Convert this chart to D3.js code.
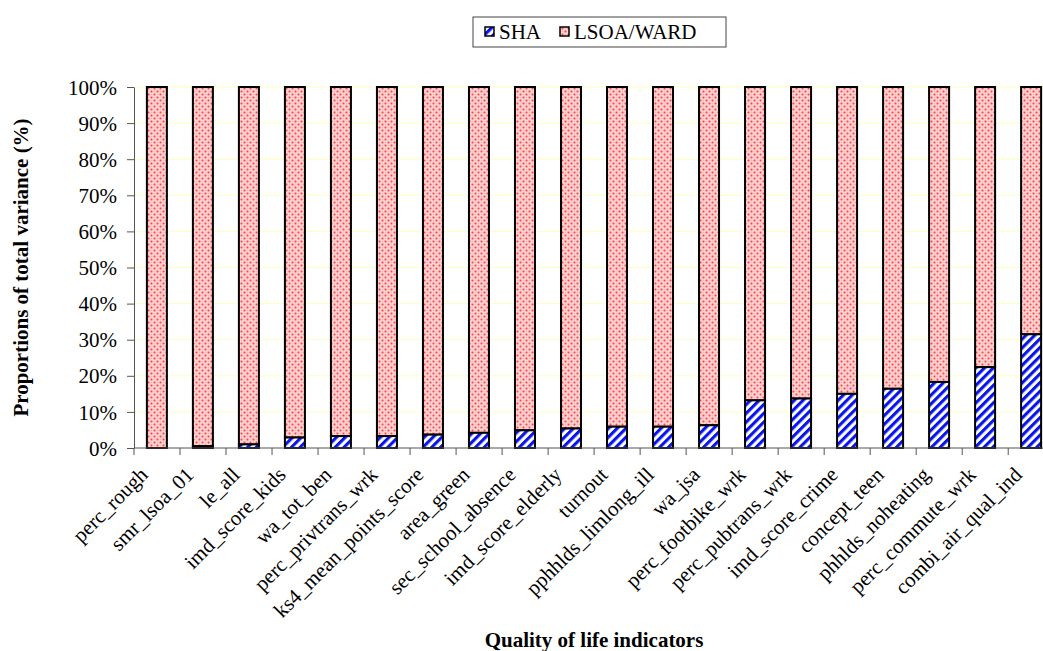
<!DOCTYPE html>
<html><head><meta charset="utf-8">
<script src="https://cdn.jsdelivr.net/npm/d3@7"></script>
<style>body{margin:0;background:#fff;} svg{display:block;} svg text{font-family:"Liberation Serif","Times New Roman",serif;fill:#000;}</style>
</head><body><svg id="c" width="1043" height="651"></svg>
<script>
const categories = ["perc_rough","smr_lsoa_01","le_all","imd_score_kids","wa_tot_ben","perc_privtrans_wrk","ks4_mean_points_score","area_green","sec_school_absence","imd_score_elderly","turnout","pphhlds_limlong_ill","wa_jsa","perc_footbike_wrk","perc_pubtrans_wrk","imd_score_crime","concept_teen","phhlds_noheating","perc_commute_wrk","combi_air_qual_ind"];
const shaValues = [0,0.5,1,2.9,3.3,3.3,3.7,4.2,4.9,5.4,5.9,5.9,6.3,13.2,13.7,15.0,16.4,18.3,22.4,31.5];
const lsoaValues = shaValues.map(v => 100 - v);
const seriesNames = ["SHA","LSOA/WARD"];
const yTicks = [0,10,20,30,40,50,60,70,80,90,100];

const svg = d3.select("#c");
const m = {left:134, right:1054, top:87, bottom:448};
const x = d3.scaleBand().domain(categories).range([m.left, m.right]).paddingInner(0.565).paddingOuter(0.28);
const y = d3.scaleLinear().domain([0,100]).range([m.bottom, m.top]);

const defs = svg.append("defs");
const ps = defs.append("pattern").attr("id","stripes").attr("patternUnits","userSpaceOnUse")
  .attr("width",6.2).attr("height",6.2).attr("patternTransform","rotate(45)");
ps.append("rect").attr("width",6.2).attr("height",6.2).attr("fill","#fff");
ps.append("rect").attr("width",3.1).attr("height",6.2).attr("fill","#0814ee");
const pd = defs.append("pattern").attr("id","dots").attr("patternUnits","userSpaceOnUse")
  .attr("width",6).attr("height",6);
pd.append("rect").attr("width",6).attr("height",6).attr("fill","#ffe6e6");
pd.append("rect").attr("x",0.5).attr("y",0.5).attr("width",2).attr("height",2).attr("fill","#ff4040");
pd.append("rect").attr("x",3.5).attr("y",3.5).attr("width",2).attr("height",2).attr("fill","#ff4040");
pd.append("rect").attr("x",3.5).attr("y",0.5).attr("width",2).attr("height",2).attr("fill","#ffb4b4");
pd.append("rect").attr("x",0.5).attr("y",3.5).attr("width",2).attr("height",2).attr("fill","#ffb4b4");

// gridlines
svg.append("g").selectAll("line").data(yTicks.filter(t=>t>0)).join("line")
  .attr("x1",m.left).attr("x2",m.right).attr("y1",d=>y(d)).attr("y2",d=>y(d))
  .attr("stroke","#ffffb8").attr("stroke-width",1);

// bars
const stacked = categories.map((c,i)=>({c, sha:shaValues[i], lsoa:lsoaValues[i]}));
const g = svg.append("g");
g.selectAll("rect.l").data(stacked).join("rect").attr("class","l")
  .attr("x",d=>x(d.c)).attr("width",x.bandwidth())
  .attr("y",d=>y(d.sha+d.lsoa)).attr("height",d=>y(d.sha)-y(d.sha+d.lsoa))
  .attr("fill","url(#dots)").attr("stroke","#000").attr("stroke-width",2);
g.selectAll("rect.s").data(stacked.filter(d=>d.sha>0)).join("rect").attr("class","s")
  .attr("x",d=>x(d.c)).attr("width",x.bandwidth())
  .attr("y",d=>y(d.sha)).attr("height",d=>y(0)-y(d.sha))
  .attr("fill","url(#stripes)").attr("stroke","#000").attr("stroke-width",2);

// y axis
const ya = svg.append("g").attr("transform",`translate(${m.left},0)`)
  .call(d3.axisLeft(y).tickValues(yTicks).tickFormat(d=>d+"%").tickSize(7).tickSizeOuter(0));
ya.attr("font-family",null);
ya.select(".domain").attr("stroke","#555");
ya.selectAll(".tick line").attr("stroke","#555");
ya.selectAll("text").attr("font-size",21).attr("x",-17).attr("dy","0.34em");

// x axis
const step = x.step();
const bounds = d3.range(categories.length+1).map(i=>m.left + i*step);
svg.append("line").attr("x1",m.left).attr("x2",m.right).attr("y1",m.bottom).attr("y2",m.bottom).attr("stroke","#555");
svg.append("g").selectAll("line").data(bounds).join("line")
  .attr("x1",d=>d).attr("x2",d=>d).attr("y1",m.bottom).attr("y2",m.bottom+7).attr("stroke","#555");
svg.append("g").selectAll("text").data(categories).join("text")
  .attr("transform",d=>`translate(${x(d)+x.bandwidth()/2-8},${m.bottom+28}) rotate(-45)`)
  .attr("text-anchor","end").attr("font-size",21).text(d=>d);

// axis titles
svg.append("text").attr("transform",`translate(28,${(m.top+m.bottom)/2}) rotate(-90)`)
  .attr("text-anchor","middle").attr("font-weight","bold").attr("font-size",21)
  .text("Proportions of total variance (%)");
svg.append("text").attr("x",(m.left+m.right)/2).attr("y",647)
  .attr("text-anchor","middle").attr("font-weight","bold").attr("font-size",21)
  .text("Quality of life indicators");

// legend
const lg = svg.append("g");
lg.append("rect").attr("x",473).attr("y",17).attr("width",253).attr("height",30)
  .attr("fill","#fff").attr("stroke","#444").attr("stroke-width",1);
const items = [{n:seriesNames[0],f:"url(#stripes)",x:485},{n:seriesNames[1],f:"url(#dots)",x:560}];
lg.selectAll("rect.sw").data(items).join("rect").attr("class","sw")
  .attr("x",d=>d.x).attr("y",27).attr("width",9).attr("height",9)
  .attr("fill",d=>d.f).attr("stroke","#000").attr("stroke-width",1.5);
lg.selectAll("text").data(items).join("text")
  .attr("x",d=>d.x+14).attr("y",39).attr("font-size",21).text(d=>d.n);
</script></body></html>
